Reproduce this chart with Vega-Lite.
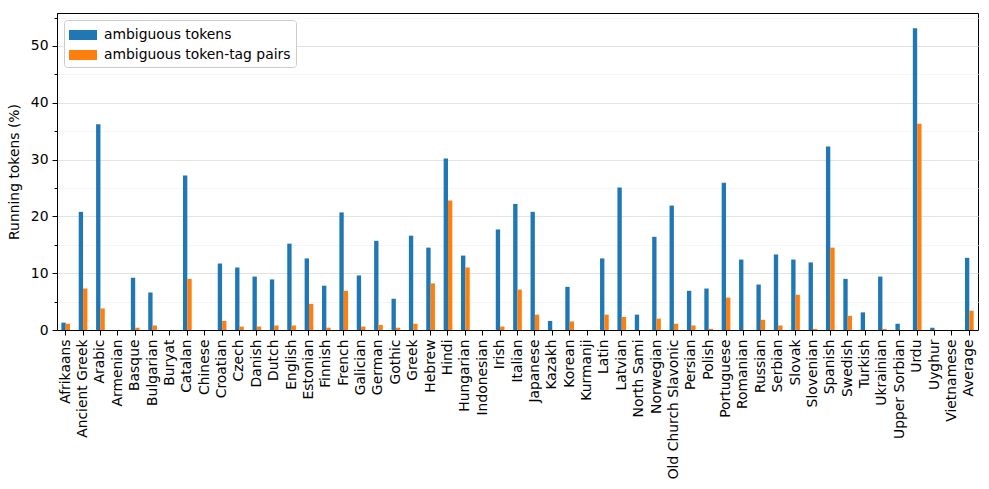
{
  "$schema": "https://vega.github.io/schema/vega-lite/v6.json",
  "width": 921,
  "height": 317,
  "autosize": "none",
  "padding": {"left": 57, "top": 13, "right": 11, "bottom": 159},
  "background": "white",
  "config": {
    "font": "DejaVu Sans",
    "view": {"stroke": "black", "strokeWidth": 1},
    "axis": {
      "domainColor": "black",
      "tickColor": "black",
      "labelColor": "black",
      "titleColor": "black",
      "labelFont": "DejaVu Sans",
      "titleFont": "DejaVu Sans",
      "labelFontSize": 13.9,
      "titleFontSize": 13.9,
      "titleFontWeight": "normal"
    }
  },
  "data": {
    "values": [
      {"lang": "Afrikaans", "ambiguous tokens": 1.3, "ambiguous token-tag pairs": 1.1},
      {"lang": "Ancient Greek", "ambiguous tokens": 20.8, "ambiguous token-tag pairs": 7.3},
      {"lang": "Arabic", "ambiguous tokens": 36.2, "ambiguous token-tag pairs": 3.8},
      {"lang": "Armenian", "ambiguous tokens": 0, "ambiguous token-tag pairs": 0},
      {"lang": "Basque", "ambiguous tokens": 9.2, "ambiguous token-tag pairs": 0.4},
      {"lang": "Bulgarian", "ambiguous tokens": 6.6, "ambiguous token-tag pairs": 0.8},
      {"lang": "Buryat", "ambiguous tokens": 0, "ambiguous token-tag pairs": 0},
      {"lang": "Catalan", "ambiguous tokens": 27.2, "ambiguous token-tag pairs": 9.0},
      {"lang": "Chinese", "ambiguous tokens": 0, "ambiguous token-tag pairs": 0},
      {"lang": "Croatian", "ambiguous tokens": 11.7, "ambiguous token-tag pairs": 1.6},
      {"lang": "Czech", "ambiguous tokens": 11.0, "ambiguous token-tag pairs": 0.6},
      {"lang": "Danish", "ambiguous tokens": 9.4, "ambiguous token-tag pairs": 0.6},
      {"lang": "Dutch", "ambiguous tokens": 8.9, "ambiguous token-tag pairs": 0.8},
      {"lang": "English", "ambiguous tokens": 15.2, "ambiguous token-tag pairs": 0.8},
      {"lang": "Estonian", "ambiguous tokens": 12.6, "ambiguous token-tag pairs": 4.6},
      {"lang": "Finnish", "ambiguous tokens": 7.8, "ambiguous token-tag pairs": 0.4},
      {"lang": "French", "ambiguous tokens": 20.7, "ambiguous token-tag pairs": 6.9},
      {"lang": "Galician", "ambiguous tokens": 9.6, "ambiguous token-tag pairs": 0.6},
      {"lang": "German", "ambiguous tokens": 15.7, "ambiguous token-tag pairs": 0.9},
      {"lang": "Gothic", "ambiguous tokens": 5.5, "ambiguous token-tag pairs": 0.4},
      {"lang": "Greek", "ambiguous tokens": 16.6, "ambiguous token-tag pairs": 1.1},
      {"lang": "Hebrew", "ambiguous tokens": 14.5, "ambiguous token-tag pairs": 8.2},
      {"lang": "Hindi", "ambiguous tokens": 30.2, "ambiguous token-tag pairs": 22.8},
      {"lang": "Hungarian", "ambiguous tokens": 13.1, "ambiguous token-tag pairs": 11.0},
      {"lang": "Indonesian", "ambiguous tokens": 0, "ambiguous token-tag pairs": 0},
      {"lang": "Irish", "ambiguous tokens": 17.7, "ambiguous token-tag pairs": 0.6},
      {"lang": "Italian", "ambiguous tokens": 22.2, "ambiguous token-tag pairs": 7.1},
      {"lang": "Japanese", "ambiguous tokens": 20.8, "ambiguous token-tag pairs": 2.7},
      {"lang": "Kazakh", "ambiguous tokens": 1.6, "ambiguous token-tag pairs": 0},
      {"lang": "Korean", "ambiguous tokens": 7.6, "ambiguous token-tag pairs": 1.5},
      {"lang": "Kurmanji", "ambiguous tokens": 0, "ambiguous token-tag pairs": 0},
      {"lang": "Latin", "ambiguous tokens": 12.6, "ambiguous token-tag pairs": 2.7},
      {"lang": "Latvian", "ambiguous tokens": 25.1, "ambiguous token-tag pairs": 2.3},
      {"lang": "North Sami", "ambiguous tokens": 2.7, "ambiguous token-tag pairs": 0},
      {"lang": "Norwegian", "ambiguous tokens": 16.4, "ambiguous token-tag pairs": 2.0},
      {"lang": "Old Church Slavonic", "ambiguous tokens": 21.9, "ambiguous token-tag pairs": 1.1},
      {"lang": "Persian", "ambiguous tokens": 6.9, "ambiguous token-tag pairs": 0.8},
      {"lang": "Polish", "ambiguous tokens": 7.3, "ambiguous token-tag pairs": 0.2},
      {"lang": "Portuguese", "ambiguous tokens": 25.9, "ambiguous token-tag pairs": 5.7},
      {"lang": "Romanian", "ambiguous tokens": 12.4, "ambiguous token-tag pairs": 0},
      {"lang": "Russian", "ambiguous tokens": 8.0, "ambiguous token-tag pairs": 1.8},
      {"lang": "Serbian", "ambiguous tokens": 13.3, "ambiguous token-tag pairs": 0.8},
      {"lang": "Slovak", "ambiguous tokens": 12.4, "ambiguous token-tag pairs": 6.2},
      {"lang": "Slovenian", "ambiguous tokens": 11.9, "ambiguous token-tag pairs": 0.2},
      {"lang": "Spanish", "ambiguous tokens": 32.3, "ambiguous token-tag pairs": 14.5},
      {"lang": "Swedish", "ambiguous tokens": 9.0, "ambiguous token-tag pairs": 2.5},
      {"lang": "Turkish", "ambiguous tokens": 3.1, "ambiguous token-tag pairs": 0},
      {"lang": "Ukrainian", "ambiguous tokens": 9.4, "ambiguous token-tag pairs": 0.2},
      {"lang": "Upper Sorbian", "ambiguous tokens": 1.1, "ambiguous token-tag pairs": 0},
      {"lang": "Urdu", "ambiguous tokens": 53.1, "ambiguous token-tag pairs": 36.3},
      {"lang": "Uyghur", "ambiguous tokens": 0.4, "ambiguous token-tag pairs": 0},
      {"lang": "Vietnamese", "ambiguous tokens": 0, "ambiguous token-tag pairs": 0},
      {"lang": "Average", "ambiguous tokens": 12.7, "ambiguous token-tag pairs": 3.4}
    ]
  },
  "transform": [
    {"fold": ["ambiguous tokens", "ambiguous token-tag pairs"], "as": ["series", "value"]}
  ],
  "mark": {"type": "bar"},
  "encoding": {
    "x": {
      "field": "lang",
      "type": "nominal",
      "sort": null,
      "scale": {"paddingInner": 0.5, "paddingOuter": 0.25},
      "axis": {"title": null, "labelAngle": -90, "tickSize": 5, "labelPadding": 4, "grid": false}
    },
    "xOffset": {
      "field": "series",
      "type": "nominal",
      "sort": ["ambiguous tokens", "ambiguous token-tag pairs"],
      "scale": {"paddingInner": 0, "paddingOuter": 0}
    },
    "y": {
      "field": "value",
      "type": "quantitative",
      "title": "Running tokens (%)",
      "scale": {"domain": [0, 55.8], "nice": false, "zero": true},
      "axis": {
        "values": [0, 5, 10, 15, 20, 25, 30, 35, 40, 45, 50, 55],
        "labelExpr": "datum.value % 10 === 0 ? datum.label : ''",
        "tickSize": {"condition": {"test": "datum.value % 10 === 0", "value": 5}, "value": 3},
        "gridColor": {"condition": {"test": "datum.value % 10 === 0", "value": "#e3e3e3"}, "value": "#f6f6f6"},
        "labelPadding": 4,
        "titlePadding": 9
      }
    },
    "color": {
      "field": "series",
      "type": "nominal",
      "sort": ["ambiguous tokens", "ambiguous token-tag pairs"],
      "scale": {"range": ["#1f77b4", "#ff7f0e"]},
      "legend": {
        "title": null,
        "orient": "top-left",
        "offset": 7,
        "fillColor": "white",
        "strokeColor": "#cccccc",
        "cornerRadius": 3,
        "padding": 5,
        "symbolType": "M-1.4,-0.5H1.4V0.5H-1.4Z",
        "symbolSize": 400,
        "symbolStrokeWidth": 0,
        "symbolOpacity": 1,
        "symbolOffset": 4,
        "labelFontSize": 13.9,
        "labelFont": "DejaVu Sans",
        "labelColor": "black",
        "labelOffset": 11,
        "labelLimit": 0,
        "rowPadding": 3
      }
    }
  }
}
